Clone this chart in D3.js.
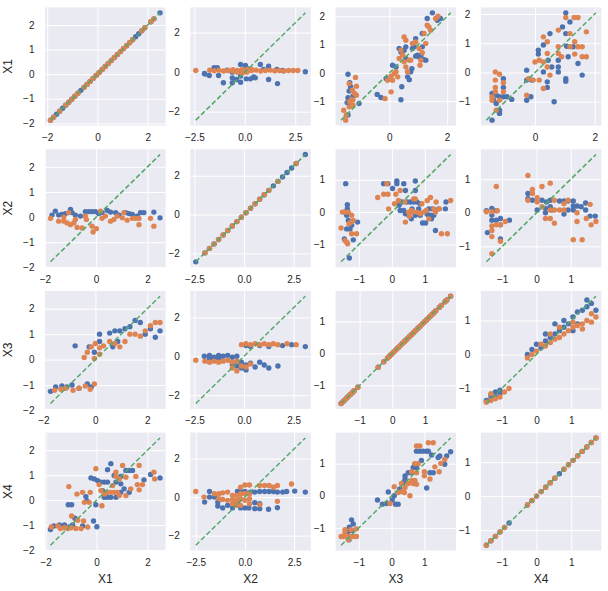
<!DOCTYPE html>
<html><head><meta charset="utf-8">
<script src="https://cdn.jsdelivr.net/npm/d3@7"></script>
<style>body{margin:0;background:#fff} svg{display:block}</style>
</head><body><svg id="c" width="608" height="591"></svg>
<script>
const varNames = ["X1","X2","X3","X4"];

// distinct values on the diagonal panels
const diagX1Blue = [-1.870,-1.748,-1.627,-1.506,-1.385,-1.264,-1.143,-1.021,-0.900,-0.779,-0.658,-0.537,-0.416,-0.294,-0.173,-0.052,0.069,0.190,0.311,0.432,0.553,0.675,0.796,0.917,1.038,1.159,1.280,1.401,1.522,1.644,1.765,1.886,2.128,2.249,2.492];
const diagX1Orange = [-1.870,-1.748,-1.506,-1.264,-1.143,-1.021,-0.900,-0.779,-0.537,-0.416,-0.294,-0.173,-0.052,0.069,0.190,0.311,0.432,0.553,0.675,0.796,0.917,1.038,1.159,1.280,1.401,1.765,1.886,2.128,2.249];
const diagX2Blue = [-2.434,-1.973,-1.743,-1.513,-1.283,-1.052,-0.822,-0.592,-0.362,-0.132,0.098,0.329,0.559,0.789,1.019,1.249,1.479,1.710,1.940,2.170,2.400,2.630,3.091];
const diagX2Orange = [-1.973,-1.743,-1.513,-1.283,-1.052,-0.822,-0.592,-0.362,-0.132,0.098,0.329,0.559,0.789,1.019,1.249,1.710,2.630];
const diagX3Blue = [-1.568,-1.511,-1.454,-1.397,-1.340,-1.284,-1.227,-1.170,-1.056,-0.431,-0.261,-0.147,-0.090,-0.033,0.024,0.080,0.137,0.194,0.251,0.308,0.365,0.421,0.478,0.535,0.592,0.649,0.706,0.762,0.819,0.876,0.933,0.990,1.047,1.103,1.160,1.217,1.274,1.331,1.445,1.502,1.615,1.672,1.786];
const diagX3Orange = [-1.568,-1.511,-1.454,-1.397,-1.340,-1.284,-1.227,-1.170,-1.056,-0.431,-0.261,-0.147,-0.090,-0.033,0.024,0.080,0.137,0.194,0.251,0.308,0.365,0.421,0.478,0.535,0.592,0.649,0.706,0.762,0.819,0.876,0.933,0.990,1.047,1.103,1.160,1.217,1.274,1.331,1.445,1.502,1.615,1.672,1.786];
const diagX4Blue = [-1.445,-1.315,-1.184,-1.052,-0.921,-0.790,-0.262,-0.130,0.001,0.133,0.264,0.396,0.527,0.659,0.790,0.922,1.053,1.185,1.317,1.448,1.580,1.712];
const diagX4Orange = [-1.445,-1.315,-1.184,-1.052,-0.921,-0.262,-0.130,0.001,0.133,0.264,0.396,0.527,0.790,0.922,1.053,1.185,1.317,1.448,1.580,1.712];

// off-diagonal panels: blue_r_c / orange_r_c as [x, y]
const blue12 = [[-2.0,-0.07],[-1.76,-0.17],[-1.52,0.22],[-1.36,0.22],[-1.3,-0.17],[-1.06,-0.54],[-0.87,0.1],[-0.62,-0.29],[-0.62,-0.54],[-0.62,0.0],[-0.41,-0.37],[-0.21,0.39],[-0.21,-0.51],[-0.21,-0.2],[0.03,0.34],[0.07,-0.34],[0.28,-0.34],[0.44,-0.24],[0.52,-0.29],[0.77,0.39],[0.93,0.14],[1.18,0.3],[1.18,-0.37],[1.59,0.14],[1.62,-0.58],[1.88,0.08],[3.0,0.02],[-1.97,-0.1],[0.1,0.2],[-0.36,0.05]];
const orange12 = [[-2.43,0.08],[-1.74,0.1],[-1.51,0.07],[-1.28,0.1],[-1.05,0.06],[-0.82,0.08],[-0.59,0.05],[-0.36,0.08],[-0.13,0.02],[-0.13,0.12],[0.1,0.05],[0.1,0.14],[0.33,0.08],[0.56,0.1],[0.79,0.06],[1.02,0.08],[1.25,0.1],[1.48,0.07],[1.71,0.08],[1.94,0.06],[2.17,0.08],[2.4,0.08],[2.63,0.08],[-0.36,0.0],[-0.13,-0.05],[0.1,0.0],[0.33,0.15],[-0.59,0.12]];
const blue13 = [[-1.43,-0.05],[-1.37,-0.35],[-1.34,-0.49],[-1.39,-0.64],[-1.43,-0.88],[-1.46,-1.05],[-1.37,-1.18],[-1.43,-1.49],[-1.05,-1.08],[-1.26,-0.82],[-0.42,-0.76],[-0.29,-0.87],[-0.11,-0.2],[0.11,0.27],[0.23,0.21],[0.34,0.86],[0.4,0.74],[0.43,-0.49],[0.4,-0.95],[0.51,0.8],[0.57,0.92],[0.63,-0.14],[0.69,-0.24],[0.74,0.04],[0.78,0.15],[0.8,0.86],[0.86,0.92],[0.91,0.59],[0.97,0.62],[1.03,0.56],[1.09,0.62],[1.14,1.39],[1.17,0.47],[1.26,0.45],[0.91,1.21],[1.31,1.92],[1.49,2.12],[1.66,1.86],[1.77,1.92],[1.14,0.92],[0.57,0.51]];
const orange13 = [[-1.39,-0.38],[-1.17,-0.16],[-1.14,-0.47],[-1.28,-0.61],[-1.2,-0.73],[-1.14,-0.79],[-1.31,-0.94],[-1.26,-0.96],[-1.37,-1.02],[-1.39,-1.2],[-1.26,-1.14],[-1.58,-1.32],[-1.49,-1.49],[-1.51,-1.67],[-0.15,-0.91],[0.06,-0.67],[-0.06,-0.26],[0.06,-0.12],[0.11,-0.26],[0.17,-0.02],[0.51,1.27],[0.57,1.15],[0.4,0.8],[0.46,0.62],[0.34,0.51],[0.23,0.04],[0.29,-0.14],[0.51,0.39],[0.57,0.21],[0.69,0.45],[0.74,0.45],[0.8,1.04],[0.91,1.09],[1.03,0.86],[1.09,0.45],[1.14,0.71],[1.06,0.27],[1.26,1.04],[1.31,1.68],[1.37,1.62],[1.43,1.51],[1.6,1.92],[1.68,2.0],[1.2,1.39],[0.63,0.04]];
const blue14 = [[-1.44,-1.63],[-1.44,-0.72],[-1.39,-0.95],[-1.3,-0.78],[-1.19,-0.83],[-1.19,-1.29],[-1.19,-1.4],[-1.06,-0.21],[-1.06,-0.51],[-1.06,-0.83],[-0.94,-0.83],[-0.78,-0.92],[-1.3,-1.06],[-0.28,0.08],[-0.28,-0.26],[-0.28,-0.95],[-0.14,-0.83],[-0.11,-0.26],[0.11,0.76],[0.11,0.63],[0.28,0.94],[0.28,0.02],[0.41,-0.32],[0.41,-0.51],[0.5,1.33],[0.44,0.42],[0.56,0.19],[0.64,-1.0],[0.78,0.42],[0.78,0.19],[0.78,0.02],[1.03,1.33],[1.03,-0.21],[1.03,-0.3],[1.03,2.04],[1.17,1.73],[0.92,1.56],[1.06,0.9],[1.11,0.54],[1.28,0.88],[1.44,0.31],[1.58,-0.09]];
const orange14 = [[-1.33,0.02],[-1.33,-0.26],[-1.33,-0.51],[-1.33,-0.66],[-1.44,-0.83],[-1.3,-1.29],[-1.19,-0.06],[-1.06,-0.35],[-1.06,-0.66],[-1.19,-0.95],[-1.44,-0.95],[-0.28,-0.78],[-0.22,-0.21],[-0.06,-0.26],[0,0.36],[0.14,0.42],[0.14,-0.26],[0.28,1.22],[0.28,0.36],[0.41,1.05],[0.41,0.65],[0.41,0.19],[0.28,-0.55],[0.5,-0.09],[0.78,1.45],[0.78,0.88],[0.78,0.65],[0.89,0.54],[1.03,1.88],[1.17,1.33],[1.17,0.88],[1.31,1.88],[1.44,1.88],[1.33,0.63],[1.44,0.88],[1.58,0.88],[1.58,0.54],[1.72,0.54],[1.72,1.39],[1.33,1.05]];

const blue21 = [[-1.72,0.08],[-1.59,0.24],[-1.46,0.08],[-1.33,0.11],[-1.2,0.14],[-1.0,0.31],[-0.94,0.18],[-0.81,0.08],[-0.61,0.04],[-0.42,0.22],[-0.29,0.22],[-0.16,0.22],[-0.03,0.22],[0.1,0.14],[0.23,0.18],[0.43,0.27],[0.56,0.2],[0.76,0.18],[0.89,0.08],[1.15,0.18],[1.28,0.14],[1.41,0.11],[1.6,0.04],[1.73,0.18],[1.86,0.18],[2.25,0.2],[2.49,-0.03]];
const orange21 = [[-1.78,-0.05],[-1.46,-0.16],[-1.26,-0.16],[-1.13,-0.23],[-1.07,0.18],[-1.0,-0.3],[-0.87,-0.23],[-0.74,-0.41],[-0.81,-0.09],[-0.55,-0.43],[-0.42,0.04],[-0.38,-0.09],[-0.16,-0.36],[-0.12,-0.59],[0.01,-0.46],[0.17,0.24],[0.23,-0.05],[0.36,0.04],[0.56,-0.16],[0.69,-0.09],[0.82,0.04],[1.02,-0.03],[1.08,0.18],[1.21,-0.12],[1.41,-0.05],[1.54,-0.05],[1.67,-0.3],[1.67,-0.05],[2.12,-0.05],[2.25,-0.36],[-1.26,0.0]];
const blue23 = [[-1.4,0.88],[-1.35,0.23],[-1.35,0.1],[-1.42,0],[-1.37,-0.1],[-1.32,-0.26],[-1.37,-0.52],[-1.27,-0.52],[-1.44,-0.83],[-1.17,-0.86],[-1.29,-1.42],[-1.04,-0.31],[-1.22,-0.41],[-0.25,0.88],[-0.12,0.88],[0.02,0.73],[0.15,0.96],[0.15,0.88],[0.36,0.88],[0.41,0.67],[0.71,0.96],[0.71,0.67],[0.22,0.21],[0.3,0.31],[0.46,0.31],[0.56,0.31],[0.66,0.31],[0.76,0.31],[0.86,0.26],[0.61,0.1],[0.81,0.1],[0.25,0.05],[0.36,0.05],[0.41,-0.05],[0.51,-0.1],[0.59,-0.21],[0.71,-0.1],[0.86,-0.1],[0.93,-0.34],[1.02,-0.34],[1.12,0.1],[1.17,-0.1],[1.27,-0.1],[1.22,0.1],[1.32,-0.57],[1.42,0.1],[1.62,0.1],[1.64,0.31],[1.2,-0.21],[1.07,-0.07]];
const orange23 = [[-1.54,-0.49],[-1.5,0],[-1.42,0],[-1.32,0],[-1.22,-0.1],[-1.17,-0.26],[-1.3,-0.36],[-1.24,-0.31],[-1.22,-0.67],[-1.07,-0.67],[-1.37,-0.93],[-1.34,-0.98],[-1.42,-0.88],[-0.15,0.88],[-0.25,0.55],[-0.12,0.55],[-0.43,0.45],[0.12,0.55],[0.25,0.67],[-0.1,0.1],[0.08,0.26],[0.2,0.36],[0.39,0.31],[0.41,-0.31],[0.51,0],[0.59,0.05],[0.66,0.41],[0.71,0.41],[0.63,0],[0.76,0],[0.86,-0.05],[0.96,0],[1.04,0.05],[0.91,0.26],[1.07,0.36],[1.17,0.45],[1.34,0.31],[1.27,0.1],[1.44,0.1],[1.5,-0.67],[1.68,-0.67],[1.78,0.36],[1.32,0],[1.12,-0.21],[0.53,-0.13]];
const blue24 = [[-1.46,0.06],[-1.43,-0.59],[-1.3,0.13],[-1.3,-0.07],[-1.3,-0.22],[-1.17,-0.22],[-1.05,-0.17],[-1.05,-0.36],[-1.05,-0.78],[-0.79,-0.22],[-1.17,0.06],[-0.25,0.57],[-0.25,0.42],[-0.12,0.37],[0.02,0.08],[0.16,0.37],[0.29,0.32],[0.4,0.37],[0.4,0.18],[0.45,0.08],[0.67,0.35],[0.8,0.35],[0.92,0.35],[1.07,0.35],[1.07,0.2],[1.07,0.08],[1.18,0.2],[1.3,0.18],[1.43,0.29],[1.43,0.08],[1.56,-0.1],[1.71,-0.1],[0.8,-0.04],[0.92,0.08],[0.26,0.13],[0.26,0]];
const orange24 = [[-1.46,0.03],[-1.3,-1.22],[-1.3,-0.71],[-1.3,-0.39],[-1.3,-0.53],[-1.3,0.03],[-1.17,-0.36],[-1.14,0.06],[-1.05,-0.36],[-1.05,-0.85],[-0.91,-0.26],[-1.17,0.78],[-0.25,1.11],[-0.25,0.37],[-0.12,0.69],[-0.12,0.57],[0.02,0.45],[0.02,0.32],[0.16,0.78],[0.16,0.18],[0.26,-0.17],[0.4,0.88],[0.4,0.08],[0.4,-0.17],[0.52,-0.31],[0.52,0.37],[0.52,0.08],[0.67,0.08],[0.8,0.27],[0.8,0.08],[0.92,0.37],[1.07,-0.8],[1.18,0],[1.18,-0.26],[1.33,-0.8],[1.45,-0.17],[1.56,0.25],[1.59,-0.36],[1.73,-0.26]];

const blue31 = [[-1.53,-1.08],[-1.73,-1.25],[-1.29,-1.04],[-1.1,-1.08],[-0.9,-1.0],[-0.63,-1.13],[-0.31,-0.96],[-0.16,-1.08],[-0.78,0.54],[-0.24,0.5],[-0.04,0.29],[0.16,0.71],[0.55,1.04],[0.75,1.13],[0.94,1.13],[1.14,1.21],[0.16,1.0],[0.67,0.5],[0.86,0.71],[1.33,1.29],[1.53,1.54],[1.73,1.46],[1.92,1.0],[2.12,1.21],[2.31,0.88],[2.49,1.13]];
const orange31 = [[-1.57,-1.21],[-1.33,-1.17],[-1.14,-1.13],[-0.86,-1.21],[-0.63,-1.13],[-0.39,-1.04],[-0.2,-1.17],[-0.04,-0.96],[-0.31,0.29],[-0.16,0.5],[0,0.63],[0.16,0.46],[0.31,0.54],[0.55,0.71],[0.75,0.63],[0.94,0.5],[-0.43,0.08],[-0.04,0.04],[0.16,0.21],[1.14,0.71],[1.33,1.0],[1.53,1.0],[1.73,0.92],[1.92,1.13],[2.12,1.33],[2.31,1.46],[2.49,1.46]];
const blue32 = [[-2.0,0.0],[-1.74,0.05],[-1.51,-0.05],[-1.28,0.05],[-1.05,0.0],[-0.82,0.05],[-0.59,-0.05],[-0.36,0.0],[-1.74,-0.1],[-1.28,-0.1],[-0.59,-0.4],[-0.36,-0.5],[-0.13,-0.3],[-0.13,-0.6],[0.1,-0.45],[0.1,-0.7],[0.33,-0.35],[0.56,-0.55],[0.79,-0.3],[1.02,-0.45],[1.25,-0.6],[1.71,-0.5],[0.1,0.55],[0.33,0.5],[0.79,0.55],[1.25,0.5],[1.94,0.55],[2.4,0.6],[3.09,0.5]];
const orange32 = [[-0.13,0.6],[0.1,0.65],[0.33,0.6],[0.56,0.65],[0.79,0.6],[1.02,0.65],[1.25,0.6],[1.48,0.65],[1.71,0.6],[2.17,0.65],[2.63,0.6],[-2.43,-0.2],[-1.97,-0.25],[-1.74,-0.3],[-1.51,-0.25],[-1.28,-0.3],[-1.05,-0.25],[-0.82,-0.2],[-0.59,-0.3],[-0.36,-0.25],[-0.59,-0.6],[-0.36,-0.75],[-0.13,-0.5],[0.1,-0.55],[0.33,-0.4]];
const blue34 = [[-1.31,-1.2],[-1.31,-1.3],[-1.18,-1.1],[-1.05,-1.15],[-1.44,-1.35],[-1.18,-1.25],[-1.05,-1.05],[-0.26,0.0],[-0.13,0.15],[0,0.3],[0.13,0.2],[0.26,0.4],[0.4,0.5],[0.53,0.6],[0.66,0.7],[0.79,0.8],[0.92,0.9],[1.05,1.1],[1.18,1.25],[1.32,1.3],[1.45,1.4],[1.58,1.5],[1.71,1.3],[1.45,1.6],[0.26,0.6],[0.53,0.9],[0.79,1.0],[1.05,0.7],[1.18,0.9]];
const orange34 = [[-1.44,-1.4],[-1.31,-1.35],[-1.18,-1.3],[-1.31,-1.15],[-1.05,-1.25],[-0.92,-1.1],[-0.79,-1.0],[-0.26,-0.1],[-0.13,0.0],[0,0.1],[0.13,0.3],[0.26,0.25],[0.4,0.35],[0.53,0.45],[0.66,0.5],[0.79,0.6],[0.92,0.7],[1.05,0.8],[1.18,0.85],[1.32,0.9],[1.45,1.0],[1.58,0.95],[1.71,1.1],[0.4,0.6],[0.66,0.8],[1.05,0.95],[1.32,0.75],[1.58,1.2]];

const blue41 = [[-1.81,-1.18],[-1.68,-1.04],[-1.46,-1.0],[-1.26,-1.0],[-1.07,-1.08],[-0.94,-1.0],[-0.85,-0.73],[-0.55,-1.04],[-0.12,-0.84],[0.01,-1.07],[-1.11,-0.19],[-0.98,-0.19],[-0.42,0.14],[-0.38,-0.03],[-0.22,0.89],[-0.09,0.85],[0.04,0.78],[-0.03,-0.19],[0.17,0.72],[0.3,0.72],[0.43,0.72],[0.23,0.38],[0.3,0.11],[0.43,0.11],[0.56,0.11],[0.76,0.11],[0.43,1.22],[0.56,1.46],[0.76,0.72],[0.95,0.65],[1.08,0.45],[1.15,1.19],[1.28,1.19],[1.28,0.31],[0.95,0.31],[1.41,1.19],[1.86,0.81],[2.12,1.03],[2.49,0.89],[0.69,0.99],[0.95,0.95]];
const orange41 = [[-1.78,-1.08],[-1.52,-1.04],[-1.42,-1.14],[-1.26,-1.11],[-1.13,-1.14],[-1.0,-1.11],[-0.81,-1.14],[-0.61,-1.14],[-0.35,-1.08],[-1.09,0.54],[-0.98,-0.64],[-0.77,0.24],[-0.74,-0.81],[-0.51,-0.84],[-0.55,0.31],[-0.48,-0.09],[-0.29,-0.09],[-0.25,0.31],[-0.03,1.26],[0.1,0.62],[0.17,0.38],[0.21,-0.23],[0.3,0.24],[0.43,0.31],[0.56,0.31],[0.69,0.31],[0.82,0.31],[0.63,0.58],[0.76,1.12],[0.76,0.95],[0.89,0.85],[1.02,1.39],[1.15,0.92],[1.15,0.18],[1.54,0.95],[1.6,0.62],[1.67,0.41],[1.67,1.39],[1.8,0.62],[2.25,1.12],[2.28,0.85],[0.89,0.18],[1.34,0.45]];
const blue42 = [[-2.05,-0.26],[-1.8,0],[-1.8,0.29],[-1.55,0],[-1.38,-0.26],[-1.38,-0.46],[-1.13,-0.56],[-0.88,-0.43],[-0.63,-0.56],[-0.38,0.29],[-0.38,-0.29],[-0.22,0.29],[-0.22,-0.56],[0,0.29],[0,-0.56],[0.2,-0.56],[0.28,0.26],[0.5,-0.29],[0.5,-0.6],[0.5,0.26],[0.75,0.29],[0.75,-0.34],[0.75,-0.6],[1.0,0.29],[1.2,-0.63],[1.23,0.29],[1.45,0.29],[1.65,0.26],[1.65,-0.55],[1.92,0.26],[2.12,0.29],[2.53,0.31],[3.07,0.26]];
const orange42 = [[-2.5,0.29],[-2.08,0],[-1.55,0.17],[-1.33,0.17],[-1.33,-0.09],[-1.13,0.22],[-1.13,-0.12],[-0.88,0.26],[-0.88,-0.17],[-0.63,0.09],[-0.63,-0.12],[-0.63,-0.34],[-0.42,0.09],[-0.42,-0.17],[-0.42,-0.43],[-0.22,0.51],[-0.22,0.17],[-0.22,-0.09],[-0.22,-0.43],[0,0.63],[0,0.17],[0,-0.17],[0.23,0.63],[0.23,0.17],[0.23,-0.09],[0.23,-0.34],[0.75,0.6],[0.75,-0.39],[1.0,0.6],[1.23,0.6],[1.45,0.51],[1.65,0.6],[1.65,-0.22],[2.37,0.68]];
const blue43 = [[-1.34,-1.13],[-1.29,-0.98],[-1.22,-0.75],[-1.17,-0.88],[-1.22,-1.08],[-1.37,-1.27],[-1.3,-1.37],[-0.43,-0.13],[-0.28,-0.26],[-0.15,-0.24],[-0.1,0.12],[0.02,-0.13],[0.08,0],[0.12,-0.26],[0.2,-0.26],[0.25,0.21],[0.36,0.41],[0.41,0.62],[0.41,0.52],[0.51,0.72],[0.61,0.72],[0.66,0.88],[0.71,0.98],[0.76,1.39],[0.86,1.39],[0.76,0.88],[0.91,1.1],[0.96,1.39],[1.07,1.39],[1.12,1.39],[1.17,0.72],[1.27,0.72],[1.07,0.24],[1.22,1.27],[1.47,1.24],[1.62,0.98],[1.68,1.24],[1.8,1.37],[1.42,1.19]];
const orange43 = [[-1.54,-1.27],[-1.47,-1.27],[-1.42,-1.06],[-1.37,-1.27],[-1.32,-1.37],[-1.27,-1.27],[-1.24,-1.06],[-1.17,-1.27],[-1.07,-1.27],[-1.07,-1.03],[-1.42,-1.16],[-0.05,-0.24],[0.08,0.28],[0.2,0.1],[0.3,0.13],[0.39,0.1],[0.41,0.26],[0.3,0.38],[0.51,0.38],[0.56,0],[0.61,0.48],[0.66,0.38],[0.71,0.48],[0.76,0.36],[0.61,0.75],[0.71,1.0],[0.81,1.0],[0.76,1.55],[0.86,1.55],[1.0,0.75],[1.0,0.62],[1.12,1.65],[1.27,1.65],[1.17,0.52],[1.32,0.9],[1.45,0.75],[1.5,1.01],[1.62,1.13],[0.76,0.72]];

// tick values per panel [row][col]
const xTicks = [
  [[-2,0,2],[-2.5,0,2.5],[0,2],[0,2]],
  [[-2,0,2],[-2.5,0,2.5],[-1,0,1],[-1,0,1]],
  [[-2,0,2],[-2.5,0,2.5],[-1,0,1],[-1,0,1]],
  [[-2,0,2],[-2.5,0,2.5],[-1,0,1],[-1,0,1]]
];
const yTicks = [
  [[-2,-1,0,1,2],[-2,0,2],[-1,0,1,2],[-1,0,1,2]],
  [[-2,-1,0,1,2],[-2,0,2],[-1,0,1],[-1,0,1]],
  [[-2,-1,0,1,2],[-2,0,2],[-1,0,1],[-1,0,1]],
  [[-2,-1,0,1,2],[-2,0,2],[-1,0,1],[-1,0,1]]
];

const diagBlue = [diagX1Blue, diagX2Blue, diagX3Blue, diagX4Blue];
const diagOrange = [diagX1Orange, diagX2Orange, diagX3Orange, diagX4Orange];
const offBlue = {"12":blue12,"13":blue13,"14":blue14,"21":blue21,"23":blue23,"24":blue24,"31":blue31,"32":blue32,"34":blue34,"41":blue41,"42":blue42,"43":blue43};
const offOrange = {"12":orange12,"13":orange13,"14":orange14,"21":orange21,"23":orange23,"24":orange24,"31":orange31,"32":orange32,"34":orange34,"41":orange41,"42":orange42,"43":orange43};

const COL = {bg:"#EAEAF2", blue:"#4C72B0", orange:"#DD8452", green:"#55A868", text:"#262626"};
const L = {x0:45, dx:145.3, w:120.5, y0:7.5, dy:141.7, h:118};
const FONT = "'Liberation Sans', Arial, sans-serif";

const svg = d3.select("#c");

for (let r = 0; r < 4; r++) {
  for (let c = 0; c < 4; c++) {
    let blue, orange;
    if (r === c) {
      blue = diagBlue[r].map(v => [v, v]);
      orange = diagOrange[r].map(v => [v, v]);
    } else {
      const k = `${r+1}${c+1}`;
      blue = offBlue[k]; orange = offOrange[k];
    }
    const all = blue.concat(orange).flat();
    const [lo, hi] = d3.extent(all);
    const pad = (hi - lo) * 0.05;
    const x = d3.scaleLinear().domain([lo - pad, hi + pad]).range([0, L.w]);
    const y = d3.scaleLinear().domain([lo - pad, hi + pad]).range([L.h, 0]);

    const g = svg.append("g").attr("transform", `translate(${L.x0 + c*L.dx},${L.y0 + r*L.dy})`);
    g.append("rect").attr("width", L.w).attr("height", L.h).attr("fill", COL.bg);

    const xt = xTicks[r][c], yt = yTicks[r][c];
    const xfmt = xt.some(v => !Number.isInteger(v)) ? d3.format(".1f") : d3.format("d");
    const yfmt = yt.some(v => !Number.isInteger(v)) ? d3.format(".1f") : d3.format("d");

    const ax = g.append("g").attr("transform", `translate(0,${L.h})`)
      .call(d3.axisBottom(x).tickValues(xt).tickFormat(xfmt).tickSizeInner(-L.h).tickSizeOuter(0).tickPadding(8.5));
    const ay = g.append("g")
      .call(d3.axisLeft(y).tickValues(yt).tickFormat(yfmt).tickSizeInner(-L.w).tickSizeOuter(0).tickPadding(10.5));
    [ax, ay].forEach(a => {
      a.select(".domain").remove();
      a.selectAll(".tick line").attr("stroke", "#fff").attr("stroke-width", 1);
      a.selectAll(".tick text").attr("fill", COL.text).style("font-family", FONT).style("font-size", "10px");
    });

    const pts = g.append("g");
    pts.selectAll("circle.b").data(blue).join("circle").attr("class","b")
      .attr("cx", d => x(d[0])).attr("cy", d => y(d[1])).attr("r", 2.7).attr("fill", COL.blue);
    pts.selectAll("circle.o").data(orange).join("circle").attr("class","o")
      .attr("cx", d => x(d[0])).attr("cy", d => y(d[1])).attr("r", 2.7).attr("fill", COL.orange);

    g.append("line").attr("x1", x(lo)).attr("y1", y(lo)).attr("x2", x(hi)).attr("y2", y(hi))
      .attr("stroke", COL.green).attr("stroke-width", 1.5).attr("stroke-dasharray", "5,2.5");

    if (c === 0) {
      g.append("text").attr("transform", `translate(-33,${L.h/2}) rotate(-90)`)
        .attr("text-anchor", "middle").attr("fill", COL.text)
        .style("font-family", FONT).style("font-size", "12px").text(varNames[r]);
    }
    if (r === 3) {
      g.append("text").attr("x", L.w/2).attr("y", L.h + 32.5)
        .attr("text-anchor", "middle").attr("fill", COL.text)
        .style("font-family", FONT).style("font-size", "12px").text(varNames[c]);
    }
  }
}
</script>
</body></html>
